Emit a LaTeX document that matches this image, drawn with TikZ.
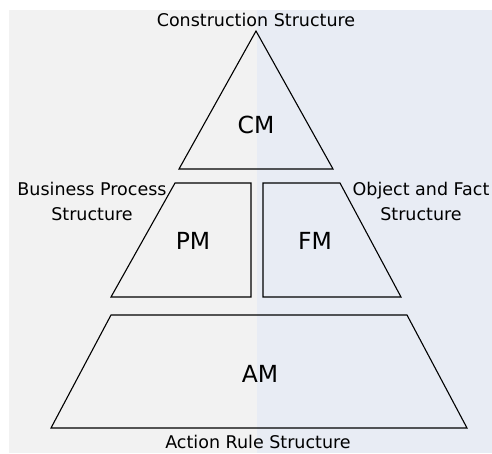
\documentclass[tikz,border=0pt]{standalone}
\usepackage{fontspec}
\setmainfont{DejaVu Sans}
\usetikzlibrary{positioning}
\definecolor{leftbg}{RGB}{242,242,242}
\definecolor{rightbg}{RGB}{232,236,244}

\begin{document}
\begin{tikzpicture}[x=1pt,y=-1pt,
    layer/.style={draw=black,line width=1.1pt,line join=miter},
    model/.style={font=\fontsize{23.5}{28}\selectfont},
    struct/.style={font=\fontsize{17.5}{25}\selectfont,align=center,inner sep=0pt}]
    \useasboundingbox (0,0) rectangle (492,453);
    % two halves of the background
    \fill[leftbg] (9,10) rectangle (257,453);
    \fill[rightbg] (257,10) rectangle (492,453);
    % pyramid
    \draw[layer] (256,31) -- (333,169) -- (179,169) -- cycle;
    \draw[layer] (175,183) -- (251,183) -- (251,297) -- (111,297) -- cycle;
    \draw[layer] (263,183) -- (340,183) -- (401,297) -- (263,297) -- cycle;
    \draw[layer] (111,315) -- (407,315) -- (467,428) -- (51,428) -- cycle;
    \node[model] (cm) at (256,125) {CM};
    \node[model] (pm) at (193,241) {PM};
    \node[model] (fm) at (315,241) {FM};
    \node[model] (am) at (260,374) {AM};
    % structure labels
    \node[struct] (cs) at (256,20) {Construction Structure};
    \node[struct] (bps) at (92,201) {Business Process\\Structure};
    \node[struct] (ofs) at (421,201) {Object and Fact\\Structure};
    \node[struct] (ars) at (258,442) {Action Rule Structure};
\end{tikzpicture}
\end{document}
